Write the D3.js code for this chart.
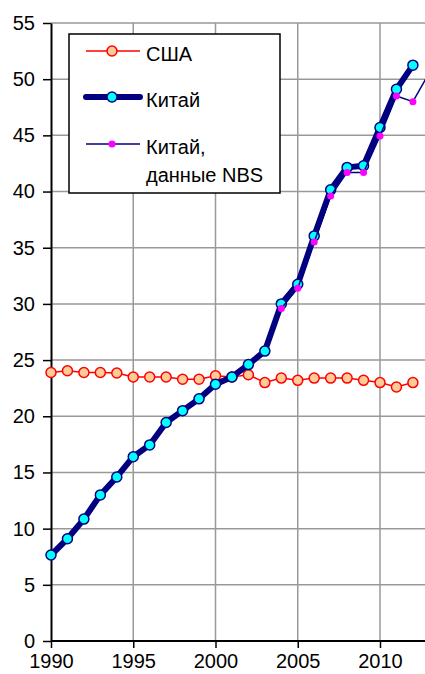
<!DOCTYPE html>
<html>
<head>
<meta charset="utf-8">
<script src="https://cdn.jsdelivr.net/npm/d3@7"></script>
<style>
  body { margin: 0; background: #fff; }
  text { font-family: "Liberation Sans", Arial, sans-serif; }
</style>
</head>
<body>
<svg></svg>
<script>
// DATA
let years = d3.range(1990, 2013)
let usa = [23.9, 24.05, 23.9, 23.9, 23.85, 23.5, 23.5, 23.5, 23.3, 23.3, 23.6,
  23.5, 23.7, 23.0, 23.4, 23.2, 23.4, 23.4, 23.4, 23.2, 23.0, 22.6, 23.0]
let china = [7.65, 9.1, 10.85, 13.0, 14.6, 16.4, 17.45, 19.45, 20.5, 21.55, 22.85,
  23.5, 24.6, 25.8, 30.0, 31.75, 36.05, 40.15, 42.15, 42.3, 45.7, 49.1, 51.25]
let nbsYears = d3.range(2004, 2014)
let chinaNbs = [29.6, 31.4, 35.5, 39.6, 41.7, 41.7, 44.95, 48.5, 48.0, 50.6]
let xTicks = [1990, 1995, 2000, 2005, 2010]
let yTicks = d3.range(0, 56, 5)
let legendLabels = [["США"], ["Китай"], ["Китай,", "данные NBS"]]

let svgWidth = 425
let svgHeight = 674

// THE CONTAINER
let svg = d3.select("svg")
  .attr("width", svgWidth)
  .attr("height", svgHeight)

// SCALE
let xScale = d3.scaleLinear()
  .domain([1990, 2010])
  .range([51, 380])

let yScale = d3.scaleLinear()
  .domain([0, 55])
  .range([641, 23])

let left = xScale(1990)
let right = svgWidth

// GRID
svg.append('g')
  .selectAll('line')
  .data(yTicks.filter(d => d > 0))
  .enter()
  .append('line')
  .attr('x1', left)
  .attr('x2', right)
  .attr('y1', d => yScale(d))
  .attr('y2', d => yScale(d))
  .attr('stroke', '#999')
  .attr('stroke-width', 1.5)

svg.append('g')
  .selectAll('line')
  .data(xTicks.filter(d => d > 1990))
  .enter()
  .append('line')
  .attr('x1', d => xScale(d))
  .attr('x2', d => xScale(d))
  .attr('y1', yScale(55))
  .attr('y2', yScale(0))
  .attr('stroke', '#999')
  .attr('stroke-width', 1.5)

// AXES
let yAxis = d3.axisLeft(yScale)
  .tickValues(yTicks)
  .tickSize(8)
  .tickPadding(8)
  .tickSizeOuter(0)

let xAxis = d3.axisBottom(xScale)
  .tickValues(xTicks)
  .tickSize(7)
  .tickPadding(6)
  .tickSizeOuter(0)
  .tickFormat(d3.format('d'))

let gy = svg.append('g')
  .attr('transform', `translate(${left}, 0)`)
  .call(yAxis)

let gx = svg.append('g')
  .attr('transform', `translate(0, ${yScale(0)})`)
  .call(xAxis)

gx.select('.domain').remove()
gx.append('line')
  .attr('x1', left).attr('x2', right)
  .attr('stroke', '#000').attr('stroke-width', 2)

;[gx, gy].forEach(g => {
  g.selectAll('text')
    .attr('font-size', 20)
    .attr('fill', '#000')
    .style('font-family', '"Liberation Sans", Arial, sans-serif')
  g.selectAll('.tick line').attr('stroke', '#000').attr('stroke-width', 1.5)
  g.select('.domain').attr('stroke', '#000').attr('stroke-width', 2)
})

// LINES
let line = d3.line()
  .x(d => xScale(d[0]))
  .y(d => yScale(d[1]))

let usaPts = d3.zip(years, usa)
let chinaPts = d3.zip(years, china)
let nbsPts = d3.zip(nbsYears, chinaNbs)

svg.append('path')
  .attr('d', line(usaPts))
  .attr('fill', 'none')
  .attr('stroke', '#ff0000')
  .attr('stroke-width', 1.5)

svg.append('g')
  .selectAll('circle')
  .data(usaPts)
  .enter()
  .append('circle')
  .attr('cx', d => xScale(d[0]))
  .attr('cy', d => yScale(d[1]))
  .attr('r', 5)
  .attr('fill', '#ffcc99')
  .attr('stroke', '#ff0000')
  .attr('stroke-width', 1.5)

svg.append('path')
  .attr('d', line(chinaPts))
  .attr('fill', 'none')
  .attr('stroke', '#000080')
  .attr('stroke-width', 6)
  .attr('stroke-linejoin', 'round')

svg.append('g')
  .selectAll('circle')
  .data(chinaPts)
  .enter()
  .append('circle')
  .attr('cx', d => xScale(d[0]))
  .attr('cy', d => yScale(d[1]))
  .attr('r', 5)
  .attr('fill', '#00ffff')
  .attr('stroke', '#000080')
  .attr('stroke-width', 1.5)

svg.append('path')
  .attr('d', line(nbsPts))
  .attr('fill', 'none')
  .attr('stroke', '#000080')
  .attr('stroke-width', 1.5)

svg.append('g')
  .selectAll('circle')
  .data(nbsPts)
  .enter()
  .append('circle')
  .attr('cx', d => xScale(d[0]))
  .attr('cy', d => yScale(d[1]))
  .attr('r', 3.5)
  .attr('fill', '#ff00ff')

// LEGEND
let legend = svg.append('g')

legend.append('rect')
  .attr('x', 69)
  .attr('y', 34)
  .attr('width', 211)
  .attr('height', 159)
  .attr('fill', '#fff')
  .attr('stroke', '#000')
  .attr('stroke-width', 1.5)

let legendY = [51, 97, 144]

// США
legend.append('line')
  .attr('x1', 86).attr('x2', 140)
  .attr('y1', legendY[0]).attr('y2', legendY[0])
  .attr('stroke', '#ff0000').attr('stroke-width', 1.5)
legend.append('circle')
  .attr('cx', 112).attr('cy', legendY[0]).attr('r', 5)
  .attr('fill', '#ffcc99').attr('stroke', '#ff0000').attr('stroke-width', 1.5)

// Китай
legend.append('line')
  .attr('x1', 86).attr('x2', 140)
  .attr('y1', legendY[1]).attr('y2', legendY[1])
  .attr('stroke', '#000080').attr('stroke-width', 6)
  .attr('stroke-linecap', 'round')
legend.append('circle')
  .attr('cx', 112).attr('cy', legendY[1]).attr('r', 5)
  .attr('fill', '#00ffff').attr('stroke', '#000080').attr('stroke-width', 1.5)

// NBS
legend.append('line')
  .attr('x1', 86).attr('x2', 140)
  .attr('y1', legendY[2]).attr('y2', legendY[2])
  .attr('stroke', '#000080').attr('stroke-width', 1.5)
legend.append('circle')
  .attr('cx', 112).attr('cy', legendY[2]).attr('r', 3.5)
  .attr('fill', '#ff00ff')

legendLabels.forEach((lines, i) => {
  let t = legend.append('text')
    .attr('x', 146)
    .attr('y', legendY[i] + 10)
    .attr('font-size', 20)
    .attr('fill', '#000')
  lines.forEach((s, j) => {
    t.append('tspan')
      .attr('x', 146)
      .attr('dy', j === 0 ? 0 : 27.5)
      .text(s)
  })
})
</script>
</body>
</html>
